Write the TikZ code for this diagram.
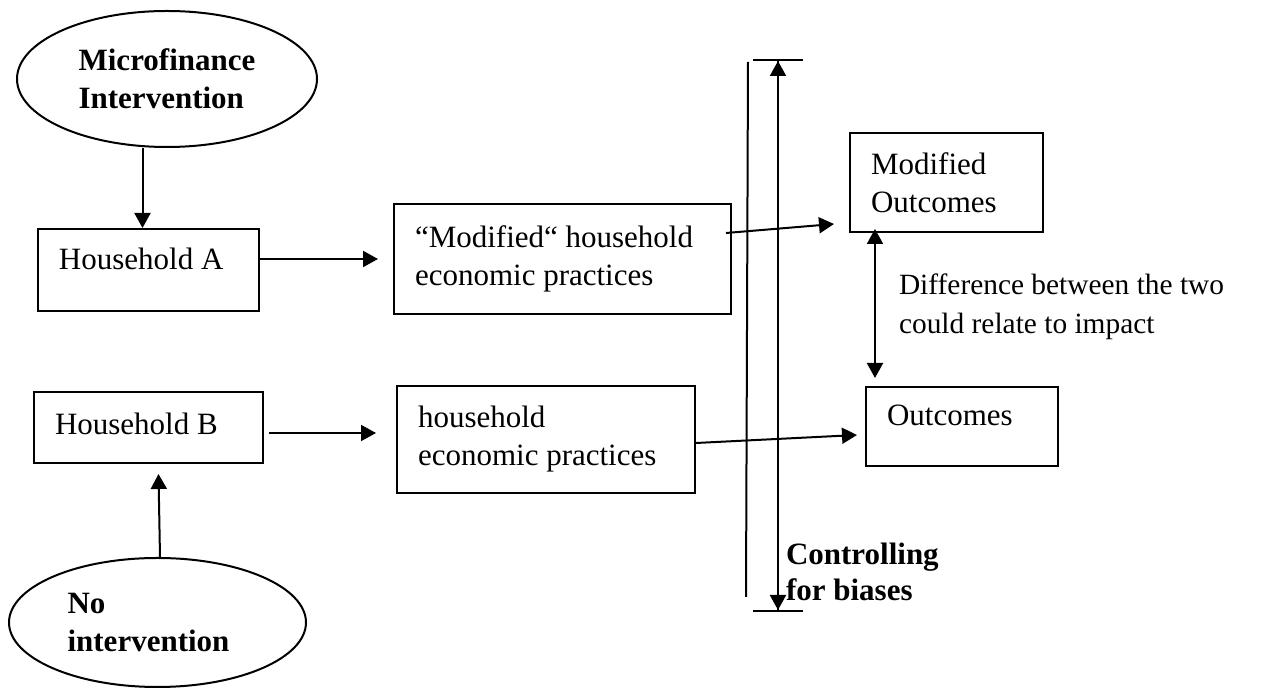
\documentclass[tikz,border=0pt]{standalone}
\usepackage{fontspec}
\setmainfont{Liberation Serif}
\usetikzlibrary{arrows.meta,shapes.geometric}

\begin{document}
\begin{tikzpicture}[x=.5pt,y=-.5pt,line width=1pt,
  font=\fontsize{15.5}{19}\selectfont,
  box/.style={draw,anchor=north west,align=flush left,inner xsep=10.5pt,inner ysep=0pt},
  oval/.style={draw,ellipse,inner sep=0pt,align=left,font=\fontsize{15.5}{19}\selectfont\bfseries},
  arr/.style={-{Triangle[length=7.5pt,width=8pt]}},
  dbl/.style={{Triangle[length=7.5pt,width=8pt]}-{Triangle[length=7.5pt,width=8pt]}},
  ctrl/.style={{Bar[width=25pt]Triangle[length=7.5pt,width=8pt]}-{Triangle[length=7.5pt,width=8pt]Bar[width=25pt]}}]
  \useasboundingbox (0,0) rectangle (1266,688);
  % the two starting points
  \node[oval,minimum width=150pt,minimum height=68pt] (mfi) at (167,79) {Microfinance\\Intervention};
  \node[oval,minimum width=148.5pt,minimum height=64.5pt] (noint) at (157.5,622.5) {No\\intervention\hspace*{9pt}};
  % households, practices, outcomes
  \node[box,text width=89.5pt,minimum height=41pt,text depth=11pt] (hhA) at (37,228) {Household A};
  \node[box,text width=93.5pt,minimum height=35.5pt,text depth=4pt] (hhB) at (33,391) {Household B};
  \node[box,text width=147.5pt,minimum height=55pt] (modA) at (393,203) {“Modified“ household\\economic practices};
  \node[box,text width=128pt,minimum height=53.5pt] (modB) at (396,385) {household\\economic practices};
  \node[box,text width=75.5pt,minimum height=49.5pt] (outA) at (849,132) {Modified\\Outcomes};
  \node[box,text width=75pt,minimum height=39.5pt,text depth=11pt] (outB) at (865,386) {Outcomes};
  % free texts
  \node[anchor=north west,inner sep=0pt,align=left,font=\fontsize{14.7}{19.5}\selectfont] (difftxt) at (898,273) {Difference between the two\\could relate to impact};
  \node[anchor=north west,inner sep=0pt,align=left,font=\fontsize{15.5}{18}\selectfont\bfseries] (ctrltxt) at (785,542) {Controlling\\for biases};
  % connectors
  \draw[arr] ([xshift=-3pt]hhA.north |- mfi.south) -- ([xshift=-3pt]hhA.north);
  \draw[arr] ([yshift=5.5pt]hhA.east) -- ([shift={(-7.5pt,0pt)}]modA.west);
  \draw[arr] ([shift={(2.5pt,-2.75pt)}]hhB.east) -- ([shift={(-10pt,-2.75pt)}]hhB.east -| modB.west);
  \draw[arr] ([xshift=1.25pt]noint.north) -- ([shift={(5pt,-5pt)}]hhB.south);
  \draw[arr] ([shift={(-3pt,13pt)}]modA.east) -- ([shift={(-7.5pt,4.5pt)}]outA.south west);
  \draw[arr] ([yshift=-1.75pt]modB.east) -- ([shift={(-4pt,-4.25pt)}]outB.west);
  \coordinate (dtop) at ([shift={(13pt,2pt)}]outA.south west);
  \coordinate (dbot) at (dtop |- outB.north);
  \draw[dbl] (dtop) -- ([yshift=4pt]dbot);
  % controlling for biases
  \coordinate (ctop) at (778,59);
  \coordinate (cbot) at (778,612);
  \draw (748,62) -- (746,597);
  \draw[ctrl] (ctop) -- (cbot);
\end{tikzpicture}
\end{document}
